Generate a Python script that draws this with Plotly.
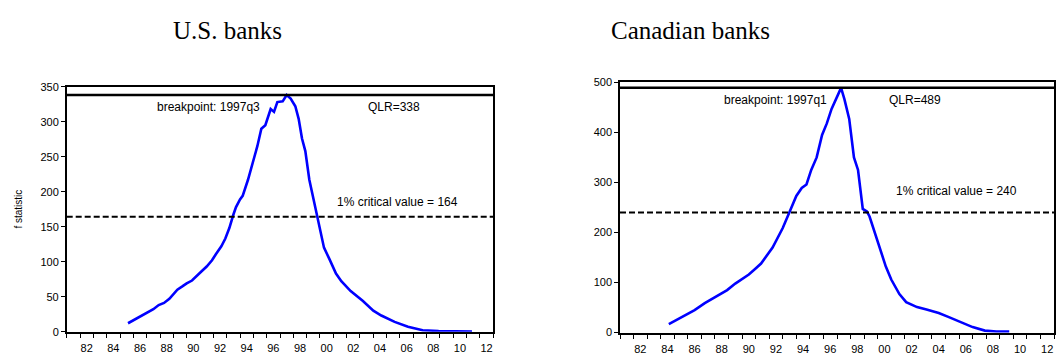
import plotly.graph_objects as go

# ---------------- data ----------------
us_years = [1985.6, 1986.0, 1986.5, 1987.1, 1987.5, 1987.9, 1988.3, 1988.7, 1989.0, 1989.3,
            1989.7, 1990.0, 1990.4, 1990.7, 1991.1, 1991.5, 1991.9, 1992.2, 1992.6, 1992.9,
            1993.2, 1993.5, 1993.7, 1994.0, 1994.2, 1994.6, 1995.0, 1995.3, 1995.6, 1995.9,
            1996.3, 1996.55, 1996.8, 1997.2, 1997.5, 1997.8, 1998.15, 1998.4, 1998.65, 1998.9,
            1999.2, 1999.45, 1999.8, 2000.05, 2000.3, 2000.7, 2001.2, 2001.6, 2002.3, 2003.2,
            2004.0, 2004.6, 2005.6, 2006.6, 2007.7, 2008.9, 2010.2, 2011.4]
us_f = [12, 16, 21, 27, 32, 38, 41, 47, 53, 60,
        65, 69, 73, 79, 86, 93, 102, 111, 122, 133,
        148, 167, 178, 189, 194, 217, 244, 265, 290, 295,
        318, 314, 328, 329, 338, 333, 322, 304, 276, 258,
        217, 194, 166, 138, 120, 104, 83, 72, 58, 44,
        30, 23, 14, 7, 2, 1, 0.5, 0.3]

ca_years = [1984.6, 1985.1, 1985.75, 1986.5, 1987.25, 1988.0, 1988.9, 1989.5, 1990.5, 1991.0,
            1991.4, 1992.25, 1992.7, 1993.0, 1993.5, 1994.0, 1994.4, 1994.75, 1995.1, 1995.5,
            1995.9, 1996.25, 1996.6, 1997.0, 1997.3, 1997.55, 1997.9, 1998.25, 1998.55, 1998.9,
            1999.2, 1999.4, 1999.75, 2000.1, 2000.6, 2001.0, 2001.6, 2002.1, 2002.9, 2003.6,
            2004.5, 2005.25, 2006.1, 2007.0, 2007.9, 2008.75, 2009.7]
ca_f = [17, 24, 34, 45, 59, 71, 85, 98, 116, 128,
        138, 170, 192, 209, 241, 273, 289, 296, 325, 350,
        395, 418, 447, 470, 489, 466, 427, 350, 325, 247,
        242, 232, 202, 170, 132, 106, 77, 61, 51, 46,
        39, 31, 21, 11, 4, 2, 2]

us_qlr = 338
us_crit = 164
ca_qlr = 489
ca_crit = 240

panel_titles = ["U.S. banks", "Canadian banks"]
us_texts = ["breakpoint: 1997q3", "QLR=338", "1% critical value = 164"]
ca_texts = ["breakpoint: 1997q1", "QLR=489", "1% critical value = 240"]

year_ticks = list(range(1981, 2014))
label_vals = [y + 0.5 for y in range(1982, 2013, 2)]
label_text = [f"{y % 100:02d}" for y in range(1982, 2013, 2)]
us_yticks = [0, 50, 100, 150, 200, 250, 300, 350]
ca_yticks = [0, 100, 200, 300, 400, 500]

# ---------------- figure ----------------
W, H = 1057, 356
fig = go.Figure()

line_style = dict(color="#0000FF", width=2.6)
fig.add_trace(go.Scatter(x=us_years, y=us_f, mode="lines", line=line_style,
                         xaxis="x", yaxis="y", showlegend=False))
fig.add_trace(go.Scatter(x=ca_years, y=ca_f, mode="lines", line=line_style,
                         xaxis="x2", yaxis="y2", showlegend=False))

tick_font = dict(family="Liberation Sans, Arial, sans-serif", size=11, color="black")

def xaxis_cfg(domain, anchor):
    return dict(domain=domain, anchor=anchor, range=[1981, 2013],
                tickmode="array", tickvals=label_vals, ticktext=label_text,
                ticks="", tickfont=tick_font, ticklabelstandoff=5,
                minor=dict(tickmode="array", tickvals=year_ticks, ticks="outside",
                           ticklen=5, tickcolor="black", tickwidth=1, showgrid=False),
                showline=True, linecolor="black", linewidth=1.5, mirror=True,
                showgrid=False, zeroline=False)

def yaxis_cfg(domain, anchor, rng, tv):
    return dict(domain=domain, anchor=anchor, range=rng,
                tickmode="array", tickvals=tv, ticks="outside", ticklen=4,
                tickcolor="black", tickfont=tick_font,
                showline=True, linecolor="black", linewidth=1.5, mirror=True,
                showgrid=False, zeroline=False)

fig.update_layout(
    width=W, height=H,
    margin=dict(l=0, r=0, t=0, b=0),
    paper_bgcolor="white", plot_bgcolor="white",
    xaxis=xaxis_cfg([66.7 / W, 493.3 / W], "y"),
    yaxis=yaxis_cfg([1 - 337 / H, 1 - 83.5 / H], "x", [0, 350], us_yticks),
    xaxis2=xaxis_cfg([620 / W, 1054 / W], "y2"),
    yaxis2=yaxis_cfg([1 - 338 / H, 1 - 79 / H], "x2", [0, 500], ca_yticks),
)
fig.update_layout(yaxis_title=dict(text="f statistic",
                                   font=dict(family="Liberation Sans, Arial, sans-serif",
                                             size=10, color="black"),
                                   standoff=16))

# horizontal reference lines
for xr, yr, q, c in [("x", "y", us_qlr, us_crit), ("x2", "y2", ca_qlr, ca_crit)]:
    fig.add_shape(type="line", xref=f"{xr} domain", yref=yr, x0=0, x1=1, y0=q, y1=q,
                  line=dict(color="black", width=2.5))
    fig.add_shape(type="line", xref=f"{xr} domain", yref=yr, x0=0, x1=1, y0=c, y1=c,
                  line=dict(color="black", width=2, dash="6px,3px"))

ann_font = dict(family="Liberation Sans, Arial, sans-serif", size=12, color="black")
us_pos = [(1991.6, 321), (2005.55, 321), (2005.78, 185)]
ca_pos = [(1992.43, 465), (2002.75, 465), (2005.82, 282)]
for (xv, yv), t in zip(us_pos, us_texts):
    fig.add_annotation(x=xv, y=yv, xref="x", yref="y", text=t, showarrow=False, font=ann_font)
for (xv, yv), t in zip(ca_pos, ca_texts):
    fig.add_annotation(x=xv, y=yv, xref="x2", yref="y2", text=t, showarrow=False, font=ann_font)

title_font = dict(family="Liberation Serif, Times New Roman, serif", size=25, color="black")
for xc, t in zip([227 / W, 690.5 / W], panel_titles):
    fig.add_annotation(x=xc, y=1 - 25 / H, xref="paper", yref="paper", text=t,
                       showarrow=False, font=title_font, xanchor="center", yanchor="middle")

fig.write_html("out.html")
